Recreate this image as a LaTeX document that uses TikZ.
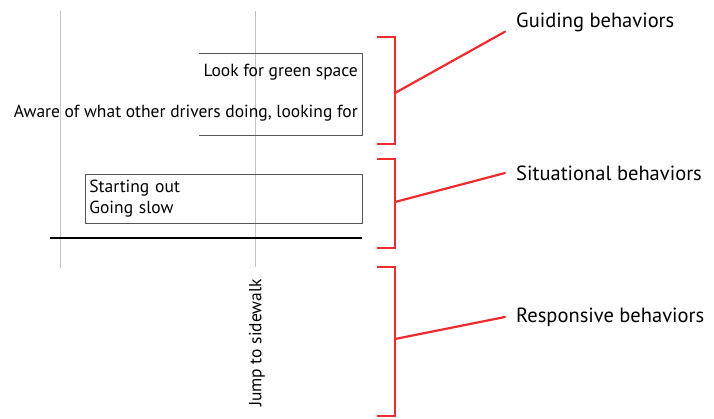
\documentclass[tikz,border=0pt]{standalone}
\usepackage{fontspec}
\setmainfont{PT Sans}
\usetikzlibrary{positioning}
\definecolor{brk}{HTML}{EE2B2E}
\definecolor{grid}{HTML}{C4C4C4}
\definecolor{edge}{HTML}{555555}
\tikzset{
  guide/.style={draw=grid, line width=0.9pt},
  frame/.style={draw=edge, line width=0.8pt},
  road/.style={draw=black, line width=1.6pt},
  brace/.style={draw=brk, line width=2.6pt, line join=miter},
  tie/.style={draw=brk, line width=2.2pt, line cap=round},
  lab/.style={font=\fontsize{17.5}{21}\selectfont, inner sep=0pt},
  cat/.style={font=\fontsize{20.5}{24}\selectfont, inner sep=0pt, anchor=west},
}
\begin{document}
\begin{tikzpicture}[x=1pt,y=-1pt]
  \useasboundingbox (0,0) rectangle (714,418);
  % time guides
  \draw[guide] (60,11) -- (60,268);
  \draw[guide] (255,11) -- (255,267);
  % guiding box, open at the left
  \draw[frame] (199,53) -- (362,53) -- (362,135) -- (199,135);
  \node[lab, anchor=east] (green) at (358,72) {Look for green space};
  \node[lab, anchor=east] (aware) at (358,113) {Aware of what other drivers doing, looking for};
  % situational box
  \node[frame, lab, anchor=north west, inner xsep=4pt, text width=269pt,
        minimum height=49pt, align=left] (start) at (85,174) {Starting out\\Going slow};
  \draw[road] (50,238) -- (362,238);
  \node[lab, rotate=90] (jump) at (257,343) {Jump to sidewalk};
  % brackets
  \draw[brace] (377,37) -- (395,37) -- (395,144) -- (377,144);
  \draw[brace] (377,159) -- (395,159) -- (395,248) -- (377,248);
  \draw[brace] (377,267) -- (395,267) -- (395,416) -- (377,416);
  \coordinate (g) at (395,93);
  \coordinate (s) at (395,202);
  \coordinate (r) at (395,339);
  \node[cat] (guiding) at (516,22) {Guiding behaviors};
  \node[cat] (situ) at (516,173) {Situational behaviors};
  \node[cat] (resp) at (516,317) {Responsive behaviors};
  \draw[tie] (g) -- ([xshift=-11pt]guiding.south west);
  \draw[tie] (s) -- ([xshift=-11pt]situ.west);
  \draw[tie] (r) -- ([xshift=-11pt]resp.west);
\end{tikzpicture}
\end{document}
